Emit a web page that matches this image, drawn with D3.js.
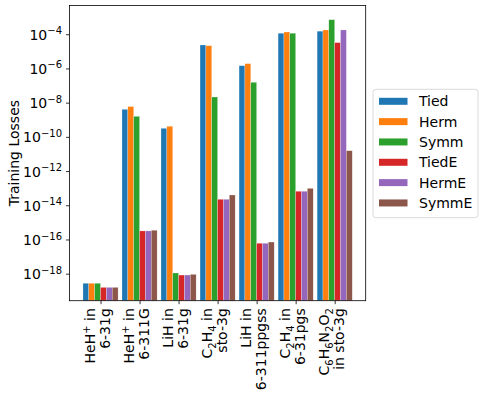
<!DOCTYPE html>
<html><head><meta charset="utf-8">
<script src="https://cdn.jsdelivr.net/npm/d3@7"></script>
<style>
body{margin:0;background:#fff;}
text{font-family:"DejaVu Sans",sans-serif;fill:#000;}
</style></head>
<body><svg id="c" width="485" height="397"></svg>
<script>
const categories = [
  ["HeH^{+} in","6-31g"],
  ["HeH^{+} in","6-311G"],
  ["LiH in","6-31g"],
  ["C_{2}H_{4} in","sto-3g"],
  ["LiH in","6-311ppgss"],
  ["C_{2}H_{4} in","6-31pgs"],
  ["C_{6}H_{6}N_{2}O_{2}","in sto-3g"]
];
const seriesNames = ["Tied","Herm","Symm","TiedE","HermE","SymmE"];
const colors = ["#1f77b4","#ff7f0e","#2ca02c","#d62728","#9467bd","#8c564b"];
// log10 of training losses, per series, per category
const tied  = [-18.56, -8.39,  -9.50, -4.63, -5.84, -3.94, -3.82];
const herm  = [-18.56, -8.23,  -9.38, -4.67, -5.72, -3.87, -3.75];
const symm  = [-18.56, -8.80, -17.96, -7.67, -6.81, -3.94, -3.15];
const tiedE = [-18.80,-15.50, -18.08,-13.65,-16.22,-13.18, -4.49];
const hermE = [-18.80,-15.50, -18.08,-13.65,-16.22,-13.18, -3.75];
const symmE = [-18.80,-15.46, -18.04,-13.40,-16.15,-13.01,-10.81];
const yTicks = [-18,-16,-14,-12,-10,-8,-6,-4];

const series = [tied,herm,symm,tiedE,hermE,symmE];
const svg = d3.select("#c");
const L=69.5, R=365.7, T=5.5, B=300.7;
const barW = 0.15;
const x = d3.scaleLinear().domain([-0.795, 6.795]).range([L,R]);
const y = d3.scaleLog().domain([Math.pow(10,-19.58), Math.pow(10,-2.32)]).range([B,T]);

// bars
series.forEach((vals,j)=>{
  svg.append("g").selectAll("rect").data(vals).join("rect")
    .attr("x",(d,i)=>x(i+(j-2.5)*barW-barW/2))
    .attr("width",x(barW)-x(0))
    .attr("y",d=>y(Math.pow(10,d)))
    .attr("height",d=>B-y(Math.pow(10,d)))
    .attr("fill",colors[j])
    .attr("stroke","#fff").attr("stroke-width",0.4).attr("stroke-opacity",0.6);
});

// frame
svg.append("rect").attr("x",L).attr("y",T).attr("width",R-L).attr("height",B-T)
  .attr("fill","none").attr("stroke","#000").attr("stroke-width",0.8);

// y axis
const ya = svg.append("g").attr("transform",`translate(${L},0)`)
  .call(d3.axisLeft(y).tickValues(yTicks.map(e=>Math.pow(10,e))).tickSize(3.5).tickPadding(4).tickFormat(""));
ya.select(".domain").remove();
ya.selectAll(".tick line").attr("stroke","#000").attr("stroke-width",0.8);
ya.selectAll(".tick text").each(function(d,i){
  const t=d3.select(this).attr("font-size",14).attr("dy","0.36em").attr("font-family","DejaVu Sans").attr("fill","#000");
  t.append("tspan").text("10");
  t.append("tspan").attr("font-size",10).attr("dy",-5.5).text("\u2212"+Math.abs(yTicks[i]));
});

// y label
svg.append("text").attr("transform",`translate(19,${(T+B)/2}) rotate(-90)`)
  .attr("text-anchor","middle").attr("font-size",14).text("Training Losses");

// x axis
const xa = svg.append("g").attr("transform",`translate(0,${B})`)
  .call(d3.axisBottom(x).tickValues(d3.range(categories.length)).tickSize(3.5).tickFormat(""));
xa.select(".domain").remove();
xa.selectAll(".tick line").attr("stroke","#000").attr("stroke-width",0.8);
xa.selectAll(".tick text").remove();

function addRich(textSel, str){
  const re=/([_^])\{([^}]*)\}|([^_^]+)/g; let m; let cur=0;
  while((m=re.exec(str))){
    let target, sz, txt;
    if(m[3]){ target=0; sz=14; txt=m[3]; }
    else { target = m[1]==="_"?3.5:-5.5; sz=10; txt=m[2]; }
    const ts=textSel.append("tspan").attr("font-size",sz).text(txt);
    if(target!==cur){ ts.attr("dy",target-cur); cur=target; }
  }
}
categories.forEach((lines,i)=>{
  const g = svg.append("g").attr("transform",`translate(${x(i)},${B+7.5}) rotate(-90)`);
  lines.forEach((ln,k)=>{
    const t=g.append("text").attr("x",0).attr("y",k===0?-5.5:9.5)
      .attr("text-anchor","end").attr("font-size",14);
    addRich(t,ln);
  });
});

// legend
const lg = svg.append("g");
lg.append("rect").attr("x",373).attr("y",89.3).attr("width",105).attr("height",128.4)
  .attr("rx",3).attr("fill","#fff").attr("fill-opacity",0.8).attr("stroke","#d0d0d0").attr("stroke-width",0.8);
seriesNames.forEach((n,j)=>{
  const cy = 101.3 + j*20.33;
  lg.append("rect").attr("x",379).attr("y",cy-3.5).attr("width",28.5).attr("height",7).attr("fill",colors[j]);
  lg.append("text").attr("x",419).attr("y",cy).attr("dy","0.36em").attr("font-size",14).text(n);
});
</script></body></html>
